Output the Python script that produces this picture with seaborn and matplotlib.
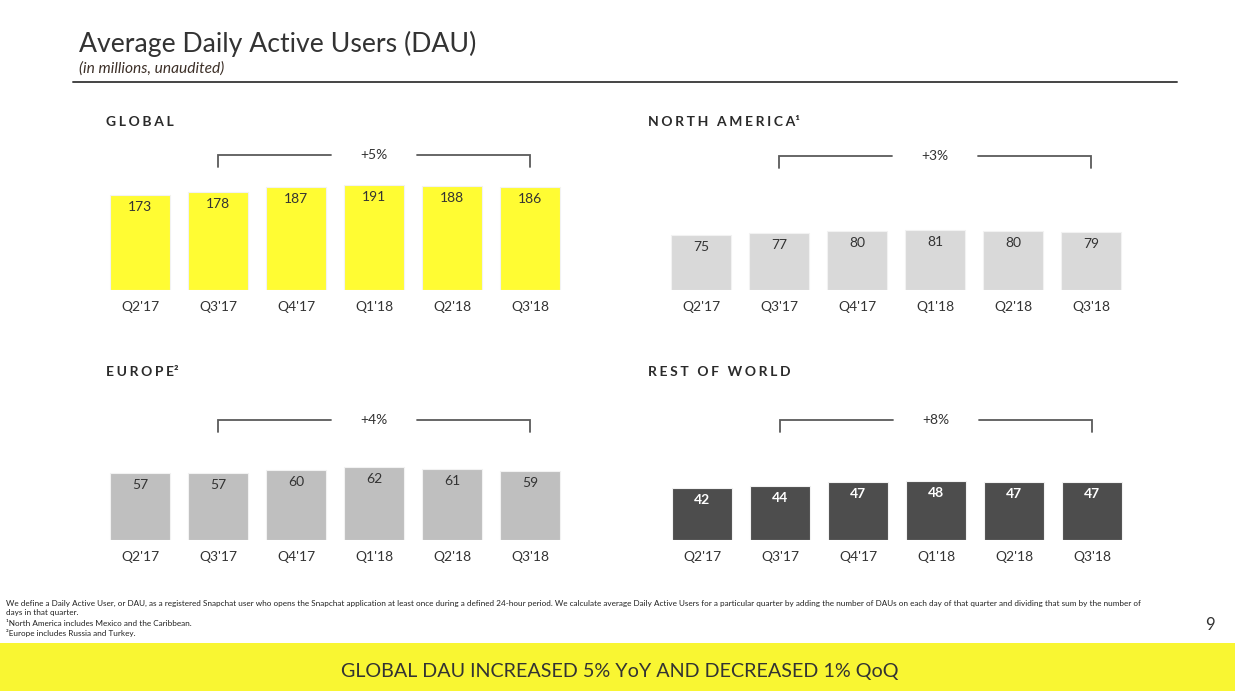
import matplotlib
matplotlib.use("Agg")
import matplotlib.pyplot as plt
import seaborn as sns
from matplotlib.patches import Rectangle

# data
quarters = ["Q2'17", "Q3'17", "Q4'17", "Q1'18", "Q2'18", "Q3'18"]
dau_global = [173, 178, 187, 191, 188, 186]
dau_north_america = [75, 77, 80, 81, 80, 79]
dau_europe = [57, 57, 60, 62, 61, 59]
dau_rest_of_world = [42, 44, 47, 48, 47, 47]
yoy_global = "+5%"
yoy_north_america = "+3%"
yoy_europe = "+4%"
yoy_rest_of_world = "+8%"

sns.set_theme(style="white")
plt.rcParams["font.family"] = ["Lato", "DejaVu Sans"]

W, H = 1235, 691
fig = plt.figure(figsize=(W / 100, H / 100), dpi=100)
fig.patch.set_facecolor("white")


def fx(px):
    return px / W


def fy(py):
    return 1 - py / H


TEXT = "#333333"

# header
fig.text(fx(79), fy(52), "Average Daily Active Users (DAU)", fontsize=19.2,
         color=TEXT, va="baseline", ha="left")
fig.text(fx(79), fy(73), "(in millions, unaudited)", fontsize=11.2,
         style="italic", color="#3d3028", va="baseline", ha="left")
fig.add_artist(plt.Line2D([fx(73), fx(1177)], [fy(82), fy(82)],
                          color="#444444", lw=1.4, transform=fig.transFigure))


def spaced(s):
    return "\u2009\u200a".join(s)


panels = [
    # title, values, yoy, color, label colour, left px, baseline px, px per unit
    (spaced("GLOBAL"), dau_global, yoy_global, "#FFFC33", TEXT, 101, 289.5, 0.549),
    (spaced("NORTH AMERICA") + "\u00b9", dau_north_america, yoy_north_america,
     "#D9D9D9", TEXT, 662, 290, 0.735),
    (spaced("EUROPE") + "\u00b2", dau_europe, yoy_europe, "#BFBFBF", TEXT,
     101, 540, 1.17),
    (spaced("REST OF WORLD"), dau_rest_of_world, yoy_rest_of_world, "#4D4D4D",
     "white", 663, 540, 1.23),
]

AX_H = 150  # px
AX_W = 6 * 78  # px

for title, vals, yoy, color, lab_col, left, base, k in panels:
    ax = fig.add_axes([fx(left), fy(base), AX_W / W, AX_H / H])
    sns.barplot(x=quarters, y=vals, color=color, saturation=1, width=0.77,
                edgecolor="#f2f2f2", linewidth=0.8, ax=ax)
    ax.set_xlim(-0.5, 5.5)
    ax.set_ylim(0, AX_H / k)
    ax.set_xlabel("")
    ax.set_ylabel("")
    ax.set_yticks([])
    ax.tick_params(axis="x", length=0, pad=8, labelsize=10, labelcolor=TEXT)
    for sp in ax.spines.values():
        sp.set_visible(False)
    ax.patch.set_alpha(0)

    for i, v in enumerate(vals):
        ax.annotate(str(v), (i, v), xytext=(0, -12), textcoords="offset pixels",
                    ha="center", va="center", fontsize=10, color=lab_col,
                    fontweight="bold" if lab_col == "white" else "normal")

    # bracket over Q3'17 .. Q3'18
    top_row = base < 400
    yh = 0.896 if top_row else 0.80
    yl = 0.815 if top_row else 0.722
    tr = ax.get_xaxis_transform()
    bcol = "#5a5a5a"
    ax.plot([1, 1, 2.45], [yl, yh, yh], color=bcol, lw=1.3, transform=tr,
            clip_on=False, solid_joinstyle="miter")
    ax.plot([3.55, 5, 5], [yh, yh, yl], color=bcol, lw=1.3, transform=tr,
            clip_on=False, solid_joinstyle="miter")
    ax.text(3.0, yh, yoy, transform=tr, ha="center", va="center",
            fontsize=10, color=TEXT)

    title_y = 121.5 if top_row else 371.5
    title_x = 106 if left < 400 else 648
    fig.text(fx(title_x), fy(title_y), title, fontsize=10, fontweight="bold",
             color="#2a2a2a", ha="left", va="center")

# footnotes
notes = [
    "We define a Daily Active User, or DAU, as a registered Snapchat user who opens the Snapchat application at least once during a defined 24-hour period. We calculate average Daily Active Users for a particular quarter by adding the number of DAUs on each day of that quarter and dividing that sum by the number of",
    "days in that quarter.",
    "\u00b9North America includes Mexico and the Caribbean.",
    "\u00b2Europe includes Russia and Turkey.",
]
for j, line in enumerate(notes):
    fig.text(fx(6), fy(603 + 10 * j), line, fontsize=5.9, color="#222222",
             ha="left", va="center")

fig.text(fx(1210), fy(625), "9", fontsize=12, color=TEXT, ha="center",
         va="center")

# bottom banner
fig.add_artist(Rectangle((0, 0), 1, fy(643), transform=fig.transFigure,
                         facecolor="#F9F632", edgecolor="none"))
fig.text(fx(620), fy(672), "GLOBAL DAU INCREASED 5% YoY AND DECREASED 1% QoQ",
         fontsize=14.2, color=TEXT, ha="center", va="center")

fig.savefig("out.png", dpi=100)
